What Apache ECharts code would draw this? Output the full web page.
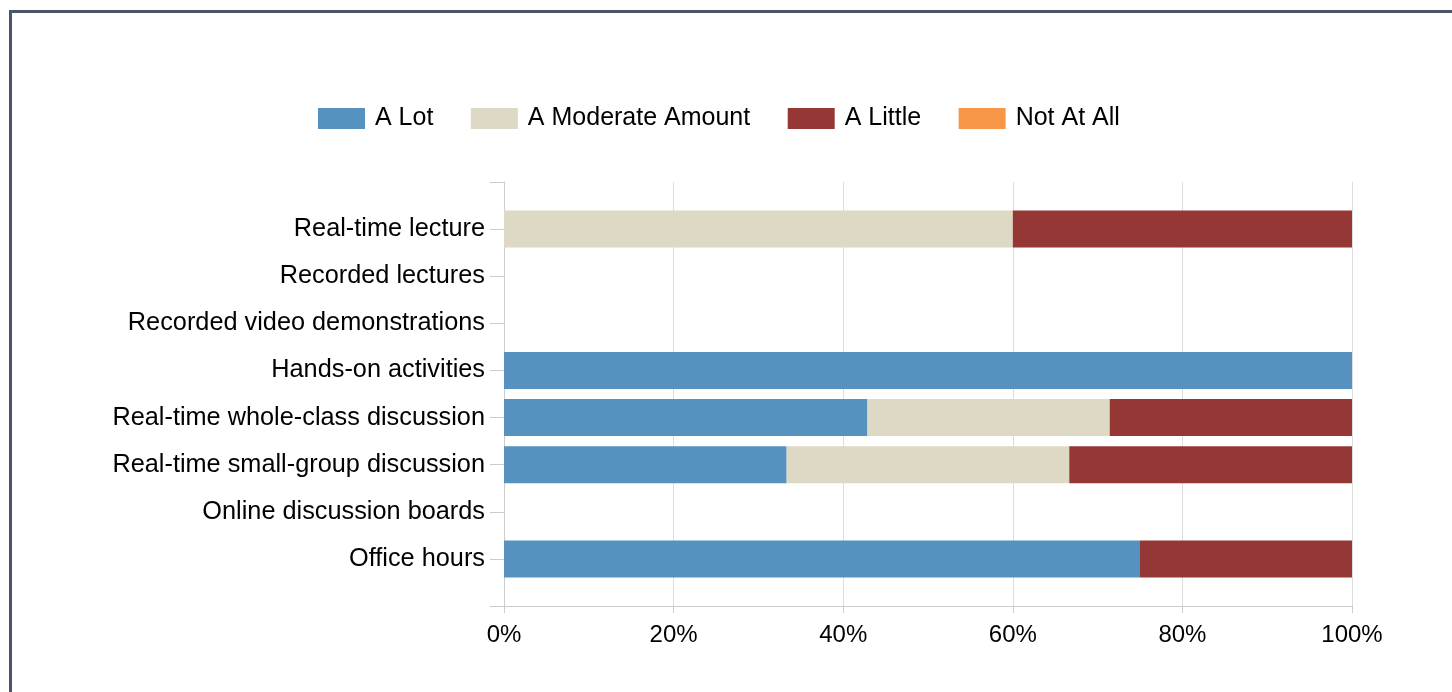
<!DOCTYPE html>
<html>
<head>
<meta charset="utf-8">
<script src="https://cdn.jsdelivr.net/npm/echarts@6/dist/echarts.min.js"></script>
<style>
html,body{margin:0;padding:0;background:#fff;overflow:hidden;}
#frame{position:absolute;left:9px;top:10px;width:1600px;height:900px;border:3px solid #4a5568;box-sizing:border-box;}
#chart{position:absolute;left:0;top:0;width:1452px;height:692px;}
</style>
</head>
<body>
<div id="frame"></div>
<div id="chart"></div>
<script>
const categories = ['Real-time lecture','Recorded lectures','Recorded video demonstrations','Hands-on activities','Real-time whole-class discussion','Real-time small-group discussion','Online discussion boards','Office hours'];
const seriesNames = ['A Lot','A Moderate Amount','A Little','Not At All'];
const aLot = [0, 0, 0, 100, 42.86, 33.33, 0, 75];
const moderate = [60, 0, 0, 0, 28.57, 33.33, 0, 0];
const little = [40, 0, 0, 0, 28.57, 33.34, 0, 25];
const notAtAll = [0, 0, 0, 0, 0, 0, 0, 0];
const xTicks = [0, 20, 40, 60, 80, 100];

const colors = ['#5592bf', '#ddd9c4', '#953735', '#f79646'];
const font = '"Liberation Sans", Arial, sans-serif';

// half-band padding at both ends of the category axis
const cats = [' '].concat(categories, ['  ']);
const pad = arr => ['-'].concat(arr.map(v => v === 0 ? '-' : v), ['-']);
const values = [aLot, moderate, little, notAtAll];

const chart = echarts.init(document.getElementById('chart'), null, {renderer: 'canvas'});
chart.setOption({
  animation: false,
  color: colors,
  legend: {
    data: seriesNames,
    left: 318,
    top: 106,
    padding: 0,
    itemWidth: 47,
    itemHeight: 21,
    itemGap: 37.5,
    icon: 'rect',
    textStyle: {fontFamily: font, fontSize: 25, color: '#000', padding: [0, 0, 0, 5]}
  },
  grid: {left: 504, right: 100, top: 182, bottom: 86, containLabel: false},
  xAxis: {
    type: 'value',
    min: xTicks[0],
    max: xTicks[xTicks.length - 1],
    interval: 20,
    axisLine: {show: true, lineStyle: {color: '#cccccc', width: 1}},
    axisTick: {show: true, length: 7, lineStyle: {color: '#cccccc'}},
    axisLabel: {formatter: '{value}%', fontFamily: font, fontSize: 24, color: '#000', margin: 17},
    splitLine: {show: true, lineStyle: {color: '#dddddd', width: 1}}
  },
  yAxis: {
    type: 'category',
    data: cats,
    inverse: true,
    boundaryGap: false,
    axisLine: {show: true, lineStyle: {color: '#cccccc', width: 1}},
    axisTick: {show: true, length: 14, lineStyle: {color: '#cccccc'}},
    axisLabel: {fontFamily: font, fontSize: 25.3, color: '#000', margin: 19, interval: 0},
    splitLine: {show: false}
  },
  series: seriesNames.map((name, i) => ({
    name: name,
    type: 'bar',
    stack: 'total',
    barWidth: 37,
    itemStyle: {color: colors[i]},
    data: pad(values[i])
  }))
});
</script>
</body>
</html>
